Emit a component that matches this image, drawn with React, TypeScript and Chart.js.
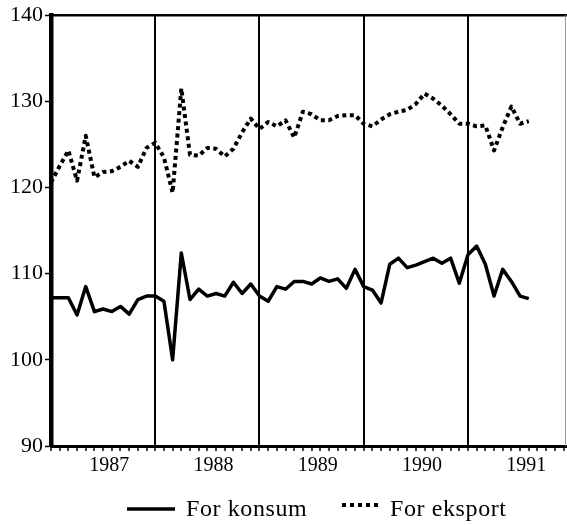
import React, { useEffect, useRef } from 'react';
import { Chart, registerables } from 'chart.js';

Chart.register(...registerables);

// Monthly index values, Jan 1987 (index 0) to Aug 1991 (index 55)
const konsum = [
  107.2, 107.2, 107.2, 105.2, 108.5, 105.6, 105.9, 105.6, 106.2, 105.3, 107.0, 107.4,
  107.4, 106.8, 100.0, 112.4, 107.0, 108.2, 107.4, 107.7, 107.4, 109.0, 107.7, 108.8,
  107.4, 106.8, 108.5, 108.2, 109.1, 109.1, 108.8, 109.5, 109.1, 109.4, 108.3, 110.5,
  108.5, 108.1, 106.6, 111.1, 111.8, 110.7, 111.0, 111.4, 111.8, 111.2, 111.8, 108.9,
  112.2, 113.2, 111.1, 107.4, 110.5, 109.1, 107.4, 107.1,
];
const eksport = [
  120.6, 122.5, 124.3, 120.8, 126.0, 121.2, 121.8, 121.9, 122.4, 123.1, 122.4, 124.6,
  125.2, 123.5, 119.4, 131.5, 123.8, 123.7, 124.6, 124.5, 123.6, 124.5, 126.4, 128.0,
  126.8, 127.6, 127.1, 127.8, 125.8, 128.8, 128.5, 127.8, 127.8, 128.3, 128.4, 128.4,
  127.4, 127.1, 127.9, 128.5, 128.8, 129.0, 129.7, 130.9, 130.3, 129.5, 128.5, 127.4,
  127.4, 127.1, 127.2, 124.3, 127.0, 129.4, 127.4, 127.7,
];
const seriesNames = ['For konsum', 'For eksport'];
const yearLabels = ['1987', '1988', '1989', '1990', '1991'];
const yearLabelPos = [6.7, 18.7, 30.7, 42.7, 54.7];
const yearBoundaries = [12, 24, 36, 48];
const yTicks = [90, 100, 110, 120, 130, 140];

const FONT = '"Liberation Serif", "Times New Roman", serif';
const monthTicks = Array.from({ length: 60 }, (_, i) => i);

const isLabelPos = (v: number) => yearLabelPos.some((p) => Math.abs(p - v) < 1e-6);

const framePlugin = {
  id: 'frame',
  afterDraw(chart: any) {
    const { ctx, chartArea } = chart;
    ctx.save();
    ctx.strokeStyle = '#000';
    ctx.lineWidth = 2.5;
    ctx.beginPath();
    ctx.moveTo(chartArea.left, chartArea.top);
    ctx.lineTo(chartArea.right, chartArea.top);
    ctx.stroke();
    ctx.strokeStyle = '#9a9a9a';
    ctx.lineWidth = 1;
    ctx.beginPath();
    ctx.moveTo(chartArea.right - 1.5, chartArea.top);
    ctx.lineTo(chartArea.right - 1.5, chartArea.bottom);
    ctx.stroke();
    ctx.restore();
  },
};

const legendPlugin = {
  id: 'bottomLegend',
  afterDraw(chart: any) {
    const ctx = chart.ctx;
    ctx.save();
    ctx.font = '24px ' + FONT;
    try {
      (ctx as any).letterSpacing = '0.6px';
    } catch (e) {}
    ctx.fillStyle = '#000';
    ctx.textBaseline = 'alphabetic';
    const ds = chart.data.datasets;
    // solid sample
    ctx.strokeStyle = '#000';
    ctx.lineWidth = 3.5;
    ctx.setLineDash([]);
    ctx.beginPath();
    ctx.moveTo(127, 509);
    ctx.lineTo(175, 509);
    ctx.stroke();
    ctx.fillText(ds[0].label, 186, 516);
    // dotted sample
    ctx.lineWidth = 4;
    ctx.setLineDash([4, 4]);
    ctx.beginPath();
    ctx.moveTo(342, 505);
    ctx.lineTo(380, 505);
    ctx.stroke();
    ctx.setLineDash([]);
    ctx.fillText(ds[1].label, 390, 516);
    ctx.restore();
  },
};

export default function App() {
  const ref = useRef<HTMLCanvasElement | null>(null);

  useEffect(() => {
    if (!ref.current) return;
    const chart = new Chart(ref.current, {
      type: 'line',
      data: {
        datasets: [
          {
            label: seriesNames[0],
            data: konsum.map((v, i) => ({ x: i, y: v })),
            borderColor: '#000',
            backgroundColor: '#000',
            borderWidth: 3.5,
            pointRadius: 0,
            tension: 0,
            borderJoinStyle: 'round',
          },
          {
            label: seriesNames[1],
            data: eksport.map((v, i) => ({ x: i, y: v })),
            borderColor: '#000',
            backgroundColor: '#000',
            borderWidth: 4,
            borderDash: [4, 3.5],
            borderJoinStyle: 'round',
            pointRadius: 0,
            tension: 0,
          },
        ],
      },
      options: {
        responsive: false,
        animation: false,
        events: [],
        layout: { padding: { top: 15, right: 0, left: 0, bottom: 0 } },
        plugins: {
          legend: { display: false },
          tooltip: { enabled: false },
          title: { display: false },
        },
        scales: {
          x: {
            type: 'linear',
            min: 0,
            max: 59.4,
            afterFit: (s: any) => {
              s.height = 79;
            },
            afterBuildTicks: (s: any) => {
              const vals = [...monthTicks, ...yearLabelPos].sort((a, b) => a - b);
              s.ticks = vals.map((v) => ({ value: v }));
            },
            border: { display: true, color: '#000', width: 3 },
            grid: {
              display: true,
              drawOnChartArea: true,
              color: (c: any) =>
                c.tick && yearBoundaries.includes(c.tick.value) ? '#000' : 'rgba(0,0,0,0)',
              lineWidth: 2,
              tickColor: (c: any) =>
                c.tick && isLabelPos(c.tick.value) ? 'rgba(0,0,0,0)' : '#000',
              tickLength: 5,
              tickWidth: 1.5,
            },
            ticks: {
              autoSkip: false,
              maxRotation: 0,
              minRotation: 0,
              padding: 3,
              color: '#000',
              font: { family: FONT, size: 20 },
              callback: (value: any) => {
                const k = yearLabelPos.findIndex((p) => Math.abs(p - Number(value)) < 1e-6);
                return k >= 0 ? yearLabels[k] : '';
              },
            },
          },
          y: {
            type: 'linear',
            min: 90,
            max: 140,
            afterFit: (s: any) => {
              s.width = 51;
            },
            afterBuildTicks: (s: any) => {
              s.ticks = yTicks.map((v) => ({ value: v }));
            },
            border: { display: true, color: '#000', width: 4.5 },
            grid: {
              display: true,
              drawOnChartArea: false,
              tickColor: '#000',
              tickLength: 6,
              tickWidth: 1.5,
            },
            ticks: {
              padding: 2,
              color: '#000',
              font: { family: FONT, size: 22 },
            },
          },
        },
      },
      plugins: [framePlugin, legendPlugin],
    } as any);
    return () => chart.destroy();
  }, []);

  return (
    <div style={{ position: 'absolute', left: 0, top: 0, width: 567, height: 525, background: '#fff' }}>
      <canvas ref={ref} width={567} height={525} style={{ display: 'block' }} />
    </div>
  );
}
